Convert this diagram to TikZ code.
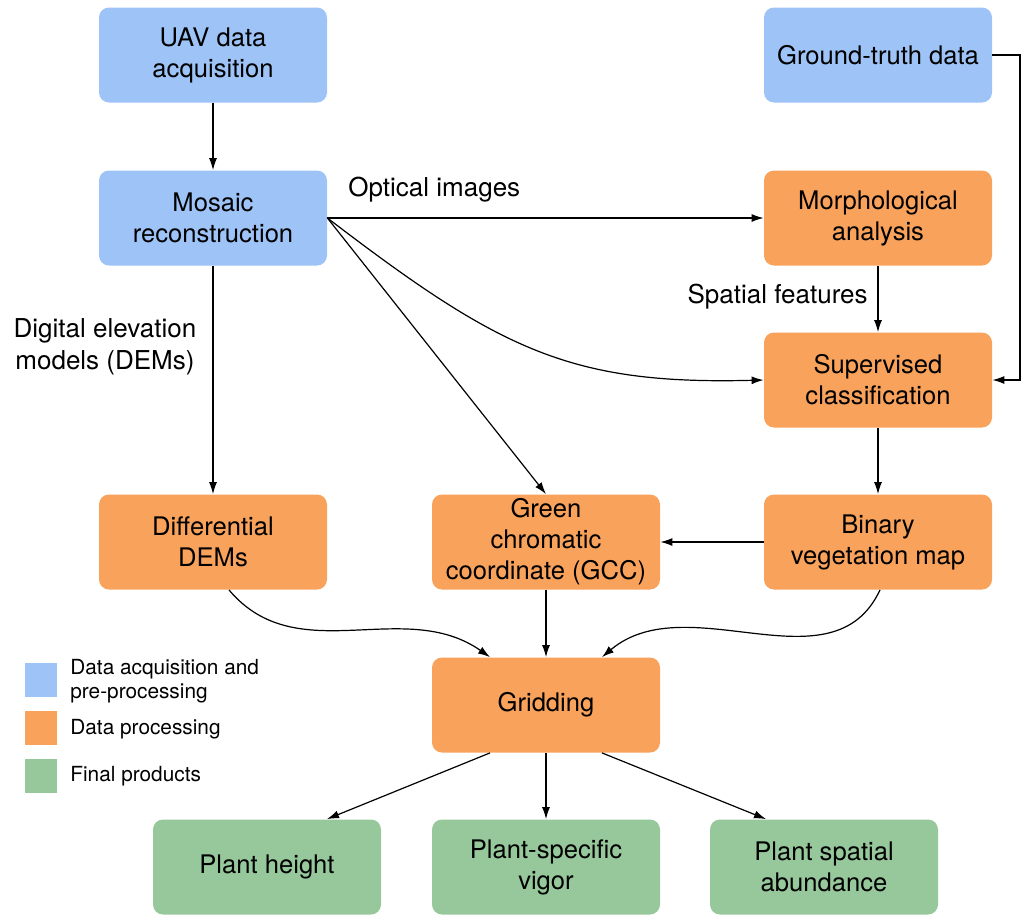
\documentclass[tikz,border=0pt]{standalone}
\usepackage{fontspec}
\setmainfont{TeX Gyre Heros}
\usetikzlibrary{arrows.meta}
\definecolor{acqblue}{RGB}{157,195,247}
\definecolor{procorange}{RGB}{249,162,92}
\definecolor{prodgreen}{RGB}{150,200,155}

\begin{document}
\begin{tikzpicture}[x=0.5pt,y=-0.5pt,
  box/.style={rounded corners=5pt,minimum width=114pt,minimum height=47.5pt,align=center,inner sep=2pt,font=\fontsize{12.8}{15.5}\selectfont},
  acq/.style={box,fill=acqblue},
  proc/.style={box,fill=procorange},
  prod/.style={box,fill=prodgreen},
  lbl/.style={inner sep=0pt,font=\fontsize{13}{16}\selectfont},
  arr/.style={-{Latex[length=6pt,width=4pt]},line width=0.6pt},
  key/.style={minimum width=16pt,minimum height=17pt,inner sep=0pt},
  keytext/.style={anchor=west,align=left,inner sep=0pt,font=\fontsize{10.4}{11.8}\selectfont}]
\useasboundingbox (0,0) rectangle (1024,917);
% input boxes
\node[acq] (uav) at (213,55) {UAV data\\acquisition};
\node[acq] (gt) at (878,55) {Ground-truth data};
\node[acq] (mosaic) at (213,218) {Mosaic\\reconstruction};
% processing boxes
\node[proc] (morph) at (878,218) {Morphological\\analysis};
\node[proc] (sup) at (878,380) {Supervised\\classification};
\node[proc] (ddem) at (213,542) {Differential\\DEMs};
\node[proc] (gcc) at (546,542) {Green\\chromatic\\coordinate (GCC)};
\node[proc] (bvm) at (878,542) {Binary\\vegetation map};
\node[proc] (grid) at (546,705) {Gridding};
% products
\node[prod] (ph) at (267,867) {Plant height};
\node[prod] (psv) at (546,867) {Plant-specific\\vigor};
\node[prod] (psa) at (824,867) {Plant spatial\\abundance};
% labels
\node[lbl,anchor=west] (optlbl) at (348,190) {Optical images};
\node[lbl,anchor=east] (spatlbl) at (868,297) {Spatial features};
\node[lbl,align=center] (demlbl) at (105,347) {Digital elevation\\models (DEMs)};
% arrows
\draw[arr] (uav) -- (mosaic);
\draw[arr] (mosaic.east) -- (morph.west);
\draw[arr] (mosaic.east) .. controls (500,350) and (570,385) .. (sup.west);
\draw[arr] (mosaic.east) -- (gcc.north);
\draw[arr] (mosaic) -- (ddem);
\draw[arr] (morph) -- (sup);
\coordinate (gtturn) at (1020,380);
\draw[arr] (gt.east) -| (gtturn) -- (sup.east);
\draw[arr] (sup) -- (bvm);
\draw[arr] (bvm) -- (gcc);
\draw[arr] ([xshift=8pt]ddem.south) to[out=-50,in=145] ([xshift=-28pt]grid.north);
\draw[arr] (gcc) -- (grid);
\draw[arr] ([xshift=1pt]bvm.south) to[out=-115,in=40] ([xshift=28pt]grid.north);
\draw[arr] ([xshift=-28pt]grid.south) -- ([xshift=30pt]ph.north);
\draw[arr] (grid) -- (psv);
\draw[arr] ([xshift=28pt]grid.south) -- ([xshift=-29pt]psa.north);
% legend
\node[key,fill=acqblue] (k1) at (41,680) {};
\node[key,fill=procorange] (k2) at (41,728) {};
\node[key,fill=prodgreen] (k3) at (41,776) {};
\node[keytext] (t1) at (70,681) {Data acquisition and\\pre-processing};
\node[keytext] (t2) at (70,729) {Data processing};
\node[keytext] (t3) at (70,776) {Final products};
\end{tikzpicture}
\end{document}
